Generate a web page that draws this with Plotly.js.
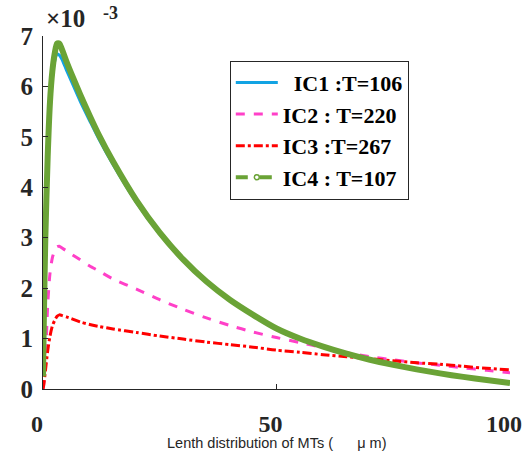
<!DOCTYPE html>
<html>
<head>
<meta charset="utf-8">
<script src="https://cdn.plot.ly/plotly-3.0.1.min.js"></script>
<style>html,body{margin:0;padding:0;background:#fff;}#chart{width:524px;height:458px;}</style>
</head>
<body>
<div id="chart"></div>
<script>
// values in units of 1e-3
const xVals = [0,0.2,0.5,1,1.5,2,2.5,3,3.5,4,5,6,8,10,12,15,20,25,30,35,40,45,50,55,60,65,70,75,80,85,90,95,100];
const ic1 = [0.3,1.5,3.0,4.6,5.6,6.2,6.5,6.65,6.62,6.55,6.33,6.12,5.7,5.32,4.95,4.45,3.7,3.07,2.55,2.12,1.76,1.46,1.19,0.99,0.83,0.7,0.58,0.48,0.39,0.31,0.24,0.18,0.12];
const ic2 = [0.0,0.15,0.5,1.65,2.3,2.6,2.75,2.82,2.83,2.80,2.74,2.68,2.56,2.44,2.34,2.18,1.98,1.77,1.58,1.41,1.26,1.13,1.02,0.92,0.82,0.72,0.64,0.58,0.52,0.47,0.42,0.37,0.32];
const ic3 = [0.0,0.1,0.35,0.75,1.05,1.25,1.36,1.44,1.47,1.46,1.43,1.40,1.33,1.28,1.24,1.19,1.12,1.05,0.99,0.93,0.88,0.83,0.77,0.73,0.68,0.64,0.60,0.56,0.52,0.49,0.45,0.41,0.38];
const ic4 = [0.25,1.5,3.0,4.6,5.7,6.3,6.65,6.85,6.85,6.75,6.5,6.27,5.83,5.42,5.03,4.51,3.74,3.1,2.57,2.13,1.77,1.47,1.2,1.0,0.84,0.7,0.58,0.48,0.39,0.31,0.24,0.18,0.12];
const names = ["\u00a0\u00a0IC1 :T=106","IC2 : T=220","IC3 :T=267","IC4 : T=107"];
const yTicks = [0,1,2,3,4,5,6,7];
const xTicks = [0,50,100];

const serif = "Liberation Serif, Times New Roman, serif";
const dark = "#262626";
const sm = 0.7;

const traces = [
  {x:xVals, y:ic1, name:names[0], mode:"lines", line:{color:"#12a3e3", width:3, shape:"spline", smoothing:sm}},
  {x:xVals, y:ic2, name:names[1], mode:"lines", line:{color:"#ff40c8", width:3, dash:"dash", shape:"spline", smoothing:sm}},
  {x:xVals, y:ic3, name:names[2], mode:"lines", line:{color:"#ff0000", width:3, dash:"dashdot", shape:"spline", smoothing:sm}},
  {x:xVals, y:ic4, name:names[3], mode:"lines", showlegend:false, legendgroup:"ic4", line:{color:"#6aa336", width:6, shape:"spline", smoothing:sm}},
  {x:[null], y:[null], name:names[3], mode:"lines+markers", legendgroup:"ic4",
   line:{color:"#6aa336", width:4, dash:"dash"},
   marker:{symbol:"circle-open", size:5, color:"#6aa336", line:{width:1.5}}}
];

const layout = {
  width:524, height:458,
  margin:{l:42.5, r:14, t:36, b:69},
  paper_bgcolor:"#fff", plot_bgcolor:"#fff",
  showlegend:true,
  legend:{x:0.40, y:0.93, xanchor:"left", yanchor:"top",
    bgcolor:"#fff", bordercolor:dark, borderwidth:1,
    font:{family:serif, size:22, color:"#000", weight:"bold"},
    itemwidth:42, tracegroupgap:0},
  xaxis:{range:[0,100], tickvals:xTicks, ticktext:xTicks.map(String),
    showline:true, linecolor:dark, linewidth:1, mirror:false,
    ticks:"inside", ticklen:5, tickcolor:dark, showgrid:false, zeroline:false,
    tickfont:{family:serif, size:24, color:dark, weight:"bold"},
    ticklabelstandoff:13, ticklabelshift:-6},
  yaxis:{range:[0,7], tickvals:yTicks, ticktext:yTicks.map(String),
    showline:true, linecolor:dark, linewidth:1, mirror:false,
    ticks:"inside", ticklen:5, tickcolor:dark, showgrid:false, zeroline:false,
    tickfont:{family:serif, size:25, color:dark, weight:"bold"},
    ticklabelstandoff:4},
  annotations:[
    {xref:"paper", yref:"paper", x:0.5, y:(389-443)/353, xanchor:"center", yanchor:"middle",
     text:"Lenth distribution of MTs (\u00a0\u00a0\u00a0\u00a0\u00a0\u00a0\u03bc m)", showarrow:false,
     font:{family:"Liberation Sans, Arial, sans-serif", size:14.5, color:dark}},
    {xref:"paper", yref:"paper", x:0.002, y:(389-34)/353, xanchor:"left", yanchor:"bottom",
     text:"\u00d710", showarrow:false, font:{family:serif, size:25, color:dark, weight:"bold"}},
    {xref:"paper", yref:"paper", x:0.125, y:(389-1)/353, xanchor:"left", yanchor:"top",
     text:"-3", showarrow:false, font:{family:serif, size:18, color:dark, weight:"bold"}}
  ]
};

Plotly.newPlot("chart", traces, layout, {displayModeBar:false, staticPlot:true});
</script>
</body>
</html>
